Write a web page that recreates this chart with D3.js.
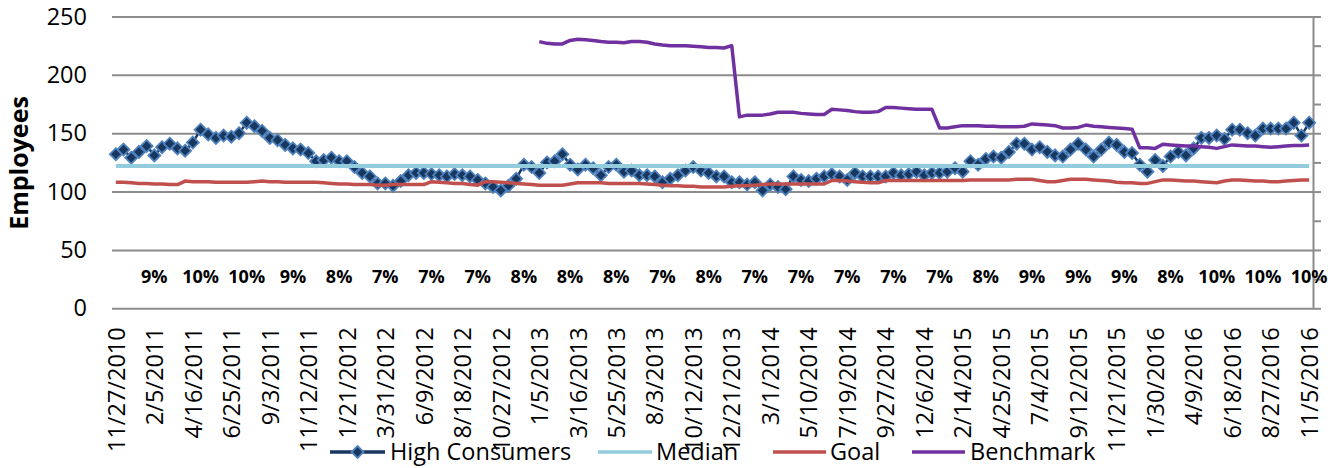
<!DOCTYPE html>
<html>
<head>
<meta charset="utf-8">
<script src="https://cdn.jsdelivr.net/npm/d3@7"></script>
<style>
  body { margin: 0; background: #fff; }
  text { font-family: "Open Sans", "Noto Sans", sans-serif; fill: #000; }
</style>
</head>
<body>
<div id="chart"></div>
<script>
// Biweekly categories 11/27/2010 .. 11/5/2016
const firstDate = new Date(2010, 10, 27);
const lastDate = new Date(2016, 10, 5);
const dates = d3.timeDay.range(firstDate, d3.timeDay.offset(lastDate, 1), 14);

// High Consumers (one value per category)
const highConsumers = [
  132,136,129,134,139,131,138,141,137,135,
  142,153,149,146,148,147,150,159,156,152,
  146,144,140,137,136,133,126,127,129,126,
  126,121,116,113,107,107,105,109,114,116,
  116,115,114,113,115,114,113,110,107,104,
  101,105,111,123,121,116,125,126,132,123,
  119,123,120,114,121,123,117,118,114,114,
  113,108,111,114,118,121,118,116,113,113,
  108,108,106,108,101,106,104,102,113,110,
  109,111,113,115,113,110,116,113,113,113,
  113,116,114,115,117,114,116,116,117,120,
  117,126,123,128,130,129,134,141,141,136,
  138,134,131,130,136,141,136,130,136,142,
  140,134,133,123,117,127,122,130,134,131,
  137,146,146,148,145,153,153,150,148,154,
  154,154,154,159,148,159
];

const median = 122;

const goal = [
  108,108,107.5,107,107,106.5,106.5,106,106,109,
  108.5,108.5,108.5,108,108,108,108,108,108.5,109,
  108.5,108.5,108,108,108,108,108,107.5,107,106.5,
  106.5,106,106,106,105.5,105.5,106,106,106,106,
  106,108.5,108,107.5,107,107,106,105.5,108.5,108.5,
  108,107.5,107,106.5,106,105.5,105.5,105.5,105.5,106.5,
  107.5,107.5,107.5,107.5,107,107,107,107,107,106.5,
  106,105.5,105,105,104.5,104.5,104,104,104,104,
  104.5,105,105,105.5,106,106.5,106.5,106.5,106.5,106.5,
  106.5,106.5,106.5,109.5,109.5,109,108.5,108,107.5,107.5,
  109.5,109.5,109.5,109.5,109.5,109.5,109.5,109.5,109.5,109.5,
  109.5,110,110,110,110,110,110,110.5,110.5,110.5,
  109.5,108.5,108.5,109.5,110.5,110.5,110.5,110,109.5,109,
  108,107.5,107.5,107,107,108.5,110,110,109.5,109,
  109,108.5,108,107.5,109,110,110,109.5,109,109,
  108.5,108.5,109,109.5,110,110
];

// Benchmark starts at 1/5/2013
const benchmarkStart = new Date(2013, 0, 5);
const benchmark = [
  228.5,227,226.5,226.5,229.5,230.5,230,229.5,228.5,228,
  228,227.5,228.5,228.5,228,226.5,225.5,225,225,225,
  224.5,224,223.5,223.5,223,225,
  164,165.5,165.5,165.5,166.5,168,168,168,167,166.5,166,166,
  170.5,170,169.5,168.5,168,168,168.5,
  172,172,171.5,171,170.5,170.5,170.5,
  154.5,154.5,155.5,156.5,156.5,156.5,156,156,155.5,155.5,155.5,156,
  158,157.5,157,156.5,154.5,154.5,155,157,156,155.5,155,154.5,154,153.5,
  137.5,137.5,137,140.5,140,139.5,139,139,138.5,138,137,138.5,
  140,139.5,139,139,138.5,138,138.5,139,139.5,139.5,140
];

// Quarterly percentage labels (every 6th category starting at the 6th)
const pctLabels = [9,10,10,9,8,7,7,7,8,8,8,7,8,7,7,7,7,7,8,9,9,9,8,10,10,10];

const yTicks = [0, 50, 100, 150, 200, 250];
const seriesNames = ["High Consumers", "Median", "Goal", "Benchmark"];

const W = 1335, H = 468;
const plotLeft = 112, plotRight = 1313, plotTop = 16.5, plotBottom = 308.3;

const svg = d3.select("#chart").append("svg")
  .attr("width", W).attr("height", H);

const x = d3.scalePoint().domain(d3.range(dates.length)).range([plotLeft, plotRight]).padding(0.5);
const y = d3.scaleLinear().domain([0, 250]).range([plotBottom, plotTop]);

// gridlines + y labels
const yAxis = svg.append("g")
  .attr("transform", `translate(${plotLeft},0)`)
  .call(d3.axisLeft(y).tickValues(yTicks).tickSize(-(plotRight - plotLeft)).tickPadding(25));
yAxis.select(".domain").remove();
yAxis.selectAll("line").attr("stroke", "#8c8c8c").attr("stroke-width", 2);
yAxis.selectAll("text").style("font-size", "23.5px").attr("fill", "#000");

// right (secondary) axis line with ticks
const rAxis = svg.append("g")
  .attr("transform", `translate(${plotRight},0)`)
  .call(d3.axisRight(y).tickValues(d3.range(0, 251, 25)).tickSize(8).tickSizeOuter(0).tickFormat(""));
rAxis.selectAll("line, path").attr("stroke", "#8c8c8c").attr("stroke-width", 2);

// x axis labels
const fmt = d3.timeFormat("%-m/%-d/%Y");
const xAxis = svg.append("g")
  .attr("transform", `translate(0,${plotBottom})`)
  .call(d3.axisBottom(x)
    .tickValues(d3.range(0, dates.length, 5))
    .tickSize(0)
    .tickFormat(i => fmt(dates[i])));
xAxis.select(".domain").remove();
xAxis.selectAll("text")
  .attr("transform", "rotate(-90)")
  .attr("x", -19).attr("y", 0).attr("dy", "0.35em")
  .style("text-anchor", "end")
  .style("font-size", "23.5px")
  .attr("fill", "#000");

// percentage labels
svg.append("g").selectAll("text")
  .data(pctLabels)
  .enter().append("text")
  .attr("x", (d, k) => x(5 + k * 6))
  .attr("y", y(27))
  .attr("dy", "0.35em")
  .attr("text-anchor", "middle")
  .style("font-size", "18px")
  .style("font-weight", "bold")
  .text(d => d + "%");

const line = d3.line().x(d => x(d.i)).y(d => y(d.v));

// High Consumers
const hcData = highConsumers.map((v, i) => ({i, v}));
svg.append("path")
  .datum(hcData)
  .attr("d", line)
  .attr("fill", "none")
  .attr("stroke", "#17375E")
  .attr("stroke-width", 2.5);

const diamond = "M0,-6L6,0L0,6L-6,0Z";
svg.append("g").selectAll("path")
  .data(hcData)
  .enter().append("path")
  .attr("d", diamond)
  .attr("transform", d => `translate(${x(d.i)},${y(d.v)})`)
  .attr("fill", "#17375E")
  .attr("stroke", "#4F81BD")
  .attr("stroke-width", 1.8);

// Median
svg.append("path")
  .datum([{i: 0, v: median}, {i: dates.length - 1, v: median}])
  .attr("d", line)
  .attr("fill", "none")
  .attr("stroke", "#93CDDD")
  .attr("stroke-width", 4);

// Goal
svg.append("path")
  .datum(goal.map((v, i) => ({i, v})))
  .attr("d", line)
  .attr("fill", "none")
  .attr("stroke", "#C0504D")
  .attr("stroke-width", 3.5)
  .attr("stroke-linejoin", "round");

// Benchmark
const bStart = Math.round(d3.timeDay.count(firstDate, benchmarkStart) / 14);
svg.append("path")
  .datum(benchmark.map((v, k) => ({i: bStart + k, v})))
  .attr("d", line)
  .attr("fill", "none")
  .attr("stroke", "#7030A0")
  .attr("stroke-width", 3.5)
  .attr("stroke-linejoin", "round");

// legend
const legendY = 452;
const legendItems = [
  {name: seriesNames[0], color: "#17375E", x0: 330, x1: 385, tx: 390, marker: true},
  {name: seriesNames[1], color: "#93CDDD", x0: 598, x1: 652, tx: 656},
  {name: seriesNames[2], color: "#C0504D", x0: 773, x1: 826, tx: 830},
  {name: seriesNames[3], color: "#7030A0", x0: 912, x1: 965, tx: 970}
];
const lg = svg.append("g");
legendItems.forEach(it => {
  lg.append("line")
    .attr("x1", it.x0).attr("x2", it.x1)
    .attr("y1", legendY).attr("y2", legendY)
    .attr("stroke", it.color).attr("stroke-width", 3.5);
  if (it.marker) {
    lg.append("path").attr("d", diamond)
      .attr("transform", `translate(${(it.x0 + it.x1) / 2},${legendY})`)
      .attr("fill", "#17375E").attr("stroke", "#4F81BD").attr("stroke-width", 1.8);
  }
  lg.append("text")
    .attr("x", it.tx).attr("y", legendY).attr("dy", "0.35em")
    .style("font-size", "23.5px")
    .text(it.name);
});

// y title
svg.append("text")
  .attr("transform", "translate(28,163) rotate(-90)")
  .attr("text-anchor", "middle")
  .style("font-size", "25px")
  .style("font-weight", "bold")
  .text("Employees");
</script>
</body>
</html>
